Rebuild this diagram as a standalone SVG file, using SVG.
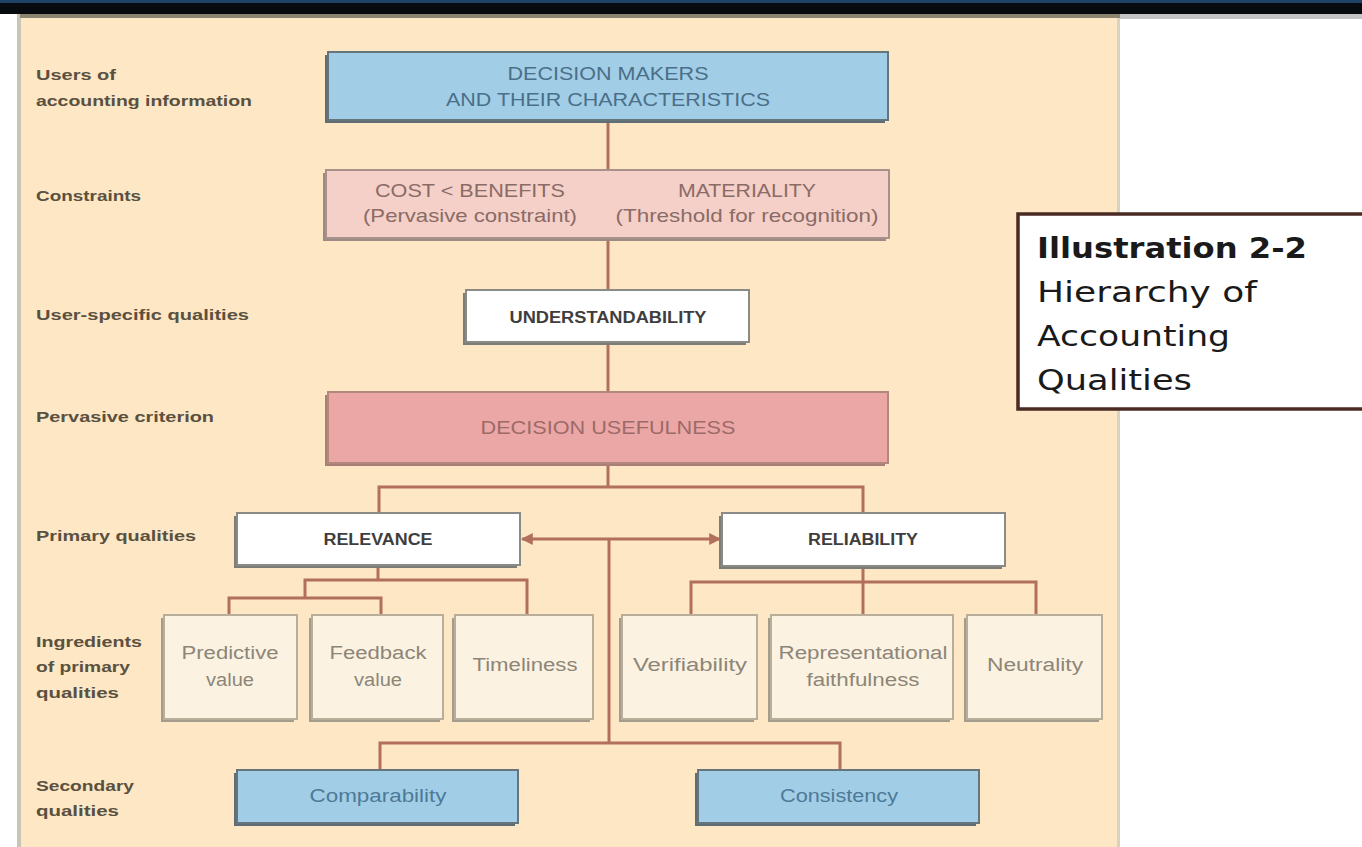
<svg xmlns="http://www.w3.org/2000/svg" width="1362" height="847" viewBox="0 0 1362 847">
<defs>
<style>
.lbl{font-family:"Liberation Sans Narrow","Liberation Sans",Arial,sans-serif;font-weight:bold;font-size:15px;fill:#5a5040}
.cap{font-family:"Liberation Sans Narrow","Liberation Sans",Arial,sans-serif;font-size:19px;text-anchor:middle}
.bold{font-family:"Liberation Sans Narrow","Liberation Sans",Arial,sans-serif;font-weight:bold;font-size:16px;fill:#3e3e3e;text-anchor:middle}
.ing{font-family:"Liberation Sans Narrow","Liberation Sans",Arial,sans-serif;font-size:18px;fill:#8c8678;text-anchor:middle}
.sec{font-family:"Liberation Sans Narrow","Liberation Sans",Arial,sans-serif;font-size:18px;fill:#4d7a96;text-anchor:middle}
.conn{stroke:#b2705c;stroke-width:3;fill:none}
.ill{font-family:"DejaVu Sans","Liberation Sans",sans-serif;font-size:29px;fill:#1a1a1a}
</style>
<marker id="ah" viewBox="0 0 10 10" refX="9" refY="5" markerWidth="4" markerHeight="4" orient="auto-start-reverse">
<path d="M0,0 L10,5 L0,10 z" fill="#b2705c"/>
</marker>
</defs>

<!-- background -->
<rect x="0" y="0" width="1362" height="847" fill="#ffffff"/>
<rect x="20" y="14" width="1099" height="833" fill="#fde7c4"/>
<rect x="17" y="14" width="4" height="833" fill="#c9c6b4"/>
<rect x="1117" y="14" width="3" height="833" fill="#d8d2c0"/>
<rect x="0" y="0" width="1362" height="14" fill="#070a0f"/>
<rect x="0" y="0" width="1362" height="3" fill="#1f4266"/>
<rect x="20" y="14" width="1100" height="4" fill="#8a8470"/>
<rect x="1120" y="14" width="242" height="5" fill="#c4c4c4"/>

<!-- row labels -->
<g id="row-labels">
<text class="lbl" x="36" y="80" textLength="80" lengthAdjust="spacingAndGlyphs">Users of</text>
<text class="lbl" x="36" y="106" textLength="216" lengthAdjust="spacingAndGlyphs">accounting information</text>
<text class="lbl" x="36" y="201" textLength="105" lengthAdjust="spacingAndGlyphs">Constraints</text>
<text class="lbl" x="36" y="320" textLength="213" lengthAdjust="spacingAndGlyphs">User-specific qualities</text>
<text class="lbl" x="36" y="422" textLength="178" lengthAdjust="spacingAndGlyphs">Pervasive criterion</text>
<text class="lbl" x="36" y="541" textLength="160" lengthAdjust="spacingAndGlyphs">Primary qualities</text>
<text class="lbl" x="36" y="647" textLength="106" lengthAdjust="spacingAndGlyphs">Ingredients</text>
<text class="lbl" x="36" y="672" textLength="94" lengthAdjust="spacingAndGlyphs">of primary</text>
<text class="lbl" x="36" y="698" textLength="83" lengthAdjust="spacingAndGlyphs">qualities</text>
<text class="lbl" x="36" y="791" textLength="98" lengthAdjust="spacingAndGlyphs">Secondary</text>
<text class="lbl" x="36" y="816" textLength="83" lengthAdjust="spacingAndGlyphs">qualities</text>
</g>

<!-- connectors -->
<g id="connectors">
<line class="conn" x1="608" y1="120" x2="608" y2="170"/>
<line class="conn" x1="608" y1="238" x2="608" y2="290"/>
<line class="conn" x1="608" y1="342" x2="608" y2="392"/>
<polyline class="conn" points="608,463 608,487"/>
<polyline class="conn" points="379,513 379,487 863,487 863,513"/>
<line class="conn" x1="522" y1="539" x2="720" y2="539" marker-start="url(#ah)" marker-end="url(#ah)"/>
<line class="conn" x1="609" y1="539" x2="609" y2="743"/>
<polyline class="conn" points="380,770 380,743 840,743 840,770"/>
<line class="conn" x1="378" y1="565" x2="378" y2="580"/>
<polyline class="conn" points="305,598 305,580 527,580 527,615"/>
<polyline class="conn" points="229,615 229,598 381,598 381,615"/>
<line class="conn" x1="863" y1="567" x2="863" y2="615"/>
<polyline class="conn" points="691,615 691,582 1036,582 1036,615"/>
</g>

<!-- nodes -->
<g id="decision-makers">
<rect x="325" y="55" width="560" height="68" fill="#5f6e76"/>
<rect x="328" y="52" width="560" height="68" fill="#a2cde6" stroke="#66757c" stroke-width="2"/>
<text class="cap" x="608" y="80" fill="#4a6f88" textLength="201" lengthAdjust="spacingAndGlyphs">DECISION MAKERS</text>
<text class="cap" x="608" y="106" fill="#4a6f88" textLength="324" lengthAdjust="spacingAndGlyphs">AND THEIR CHARACTERISTICS</text>
</g>

<g id="constraints">
<rect x="323" y="173" width="563" height="68" fill="#9d8a84"/>
<rect x="326" y="170" width="563" height="68" fill="#f5d0c8" stroke="#a8918a" stroke-width="2"/>
<text class="cap" x="470" y="197" fill="#8a6b66" textLength="190" lengthAdjust="spacingAndGlyphs">COST &lt; BENEFITS</text>
<text class="cap" x="470" y="222" fill="#8a6b66" textLength="214" lengthAdjust="spacingAndGlyphs">(Pervasive constraint)</text>
<text class="cap" x="747" y="197" fill="#8a6b66" textLength="138" lengthAdjust="spacingAndGlyphs">MATERIALITY</text>
<text class="cap" x="747" y="222" fill="#8a6b66" textLength="263" lengthAdjust="spacingAndGlyphs">(Threshold for recognition)</text>
</g>

<g id="understandability">
<rect x="463" y="293" width="283" height="52" fill="#7c7c78"/>
<rect x="466" y="290" width="283" height="52" fill="#ffffff" stroke="#8a8a86" stroke-width="2"/>
<text class="bold" x="608" y="323" textLength="197" lengthAdjust="spacingAndGlyphs">UNDERSTANDABILITY</text>
</g>

<g id="decision-usefulness">
<rect x="325" y="395" width="560" height="71" fill="#a88076"/>
<rect x="328" y="392" width="560" height="71" fill="#eba7a5" stroke="#b3877c" stroke-width="2"/>
<text class="cap" x="608" y="434" fill="#9c6a68" textLength="255" lengthAdjust="spacingAndGlyphs">DECISION USEFULNESS</text>
</g>

<g id="relevance">
<rect x="234" y="516" width="283" height="52" fill="#7c7c78"/>
<rect x="237" y="513" width="283" height="52" fill="#ffffff" stroke="#8a8a86" stroke-width="2"/>
<text class="bold" x="378" y="545" textLength="109" lengthAdjust="spacingAndGlyphs">RELEVANCE</text>
</g>

<g id="reliability">
<rect x="719" y="516" width="283" height="53" fill="#7c7c78"/>
<rect x="722" y="513" width="283" height="53" fill="#ffffff" stroke="#8a8a86" stroke-width="2"/>
<text class="bold" x="863" y="545" textLength="110" lengthAdjust="spacingAndGlyphs">RELIABILITY</text>
</g>

<g id="predictive-value">
<rect x="161" y="618" width="133" height="104" fill="#a49c8c"/>
<rect x="164" y="615" width="133" height="104" fill="#fcf2e2" stroke="#b8ae9a" stroke-width="2"/>
<text class="ing" x="230" y="659" textLength="97" lengthAdjust="spacingAndGlyphs">Predictive</text>
<text class="ing" x="230" y="686" textLength="48" lengthAdjust="spacingAndGlyphs">value</text>
</g>

<g id="feedback-value">
<rect x="309" y="618" width="131" height="104" fill="#a49c8c"/>
<rect x="312" y="615" width="131" height="104" fill="#fcf2e2" stroke="#b8ae9a" stroke-width="2"/>
<text class="ing" x="378" y="659" textLength="97" lengthAdjust="spacingAndGlyphs">Feedback</text>
<text class="ing" x="378" y="686" textLength="48" lengthAdjust="spacingAndGlyphs">value</text>
</g>

<g id="timeliness">
<rect x="452" y="618" width="138" height="104" fill="#a49c8c"/>
<rect x="455" y="615" width="138" height="104" fill="#fcf2e2" stroke="#b8ae9a" stroke-width="2"/>
<text class="ing" x="525" y="671" textLength="105" lengthAdjust="spacingAndGlyphs">Timeliness</text>
</g>

<g id="verifiability">
<rect x="619" y="618" width="135" height="104" fill="#a49c8c"/>
<rect x="622" y="615" width="135" height="104" fill="#fcf2e2" stroke="#b8ae9a" stroke-width="2"/>
<text class="ing" x="690" y="671" textLength="114" lengthAdjust="spacingAndGlyphs">Verifiability</text>
</g>

<g id="representational-faithfulness">
<rect x="768" y="618" width="182" height="104" fill="#a49c8c"/>
<rect x="771" y="615" width="182" height="104" fill="#fcf2e2" stroke="#b8ae9a" stroke-width="2"/>
<text class="ing" x="863" y="659" textLength="169" lengthAdjust="spacingAndGlyphs">Representational</text>
<text class="ing" x="863" y="686" textLength="113" lengthAdjust="spacingAndGlyphs">faithfulness</text>
</g>

<g id="neutrality">
<rect x="964" y="618" width="135" height="104" fill="#a49c8c"/>
<rect x="967" y="615" width="135" height="104" fill="#fcf2e2" stroke="#b8ae9a" stroke-width="2"/>
<text class="ing" x="1035" y="671" textLength="96" lengthAdjust="spacingAndGlyphs">Neutrality</text>
</g>

<g id="comparability">
<rect x="234" y="773" width="281" height="53" fill="#5f6e76"/>
<rect x="237" y="770" width="281" height="53" fill="#a2cde6" stroke="#66757c" stroke-width="2"/>
<text class="sec" x="378" y="802" textLength="137" lengthAdjust="spacingAndGlyphs">Comparability</text>
</g>

<g id="consistency">
<rect x="695" y="773" width="281" height="53" fill="#5f6e76"/>
<rect x="698" y="770" width="281" height="53" fill="#a2cde6" stroke="#66757c" stroke-width="2"/>
<text class="sec" x="839" y="802" textLength="118" lengthAdjust="spacingAndGlyphs">Consistency</text>
</g>

<g id="illustration-caption">
<rect x="1018" y="214" width="350" height="195" fill="#ffffff" stroke="#4a2a22" stroke-width="3.5"/>
<text class="ill" x="1037" y="258" font-weight="bold" fill="#1c1c2a" textLength="270" lengthAdjust="spacingAndGlyphs">Illustration 2-2</text>
<text class="ill" x="1037" y="302" fill="#333333" textLength="220" lengthAdjust="spacingAndGlyphs">Hierarchy of</text>
<text class="ill" x="1037" y="346" fill="#333333" textLength="193" lengthAdjust="spacingAndGlyphs">Accounting</text>
<text class="ill" x="1037" y="390" fill="#333333" textLength="155" lengthAdjust="spacingAndGlyphs">Qualities</text>
</g>
</svg>
